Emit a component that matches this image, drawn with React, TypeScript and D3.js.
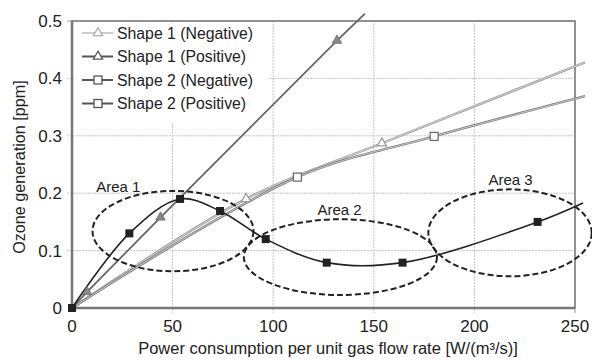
import React, {useEffect, useRef} from 'react';
import * as d3 from 'd3';

// values
const s1Neg = [[0, 0], [86.5, 0.19], [154, 0.287], [255, 0.428]];
const s1Pos = [[0, 0], [7.5, 0.028], [44, 0.158], [131.7, 0.466], [145.6, 0.513]];
const s2Neg = [[0, 0], [112, 0.228], [180, 0.299], [255, 0.369]];
const s2Pos = [[0, 0], [28.5, 0.13], [53.7, 0.19], [73.6, 0.169], [96.3, 0.12], [126.6, 0.079], [164.3, 0.079], [231.4, 0.15], [254, 0.183]];

// which points carry markers
const s1NegMarks = [[86.5, 0.19], [154, 0.287]];
const s1PosMarks = [[7.5, 0.028], [44, 0.158], [131.7, 0.466]];
const s2NegMarks = [[112, 0.228], [180, 0.299]];
const s2PosMarks = [[0, 0], [28.5, 0.13], [53.7, 0.19], [73.6, 0.169], [96.3, 0.12], [126.6, 0.079], [164.3, 0.079], [231.4, 0.15]];

const areaNames = ['Area 1', 'Area 2', 'Area 3'];
const areaCx = [50.2, 133.4, 217.7];
const areaCy = [0.134, 0.0887, 0.131];
const areaRx = [40, 48, 40.6];
const areaRy = [0.07, 0.066, 0.0757];
const areaLabelX = [23, 133, 218];
const areaLabelY = [0.202, 0.162, 0.214];

const xTicks = [0, 50, 100, 150, 200, 250];
const yTicks = [0, 0.1, 0.2, 0.3, 0.4, 0.5];

const legendNames = ['Shape 1 (Negative)', 'Shape 1 (Positive)', 'Shape 2 (Negative)', 'Shape 2 (Positive)'];

const FONT = '"Liberation Sans", Arial, sans-serif';

export default function App() {
  const svgRef = useRef(null);

  useEffect(() => {
    const svg = d3.select(svgRef.current);
    svg.selectAll('*').remove();

    const x = d3.scaleLinear().domain([0, 250]).range([72, 575]);
    const y = d3.scaleLinear().domain([0, 0.5]).range([308, 21]);

    const g = svg.append('g').attr('font-family', FONT);

    // grid
    g.selectAll('.vg').data(xTicks.slice(1, -1)).join('line')
      .attr('x1', d => x(d)).attr('x2', d => x(d))
      .attr('y1', y(0.5)).attr('y2', y(0) + 5)
      .attr('stroke', '#c4c4c4').attr('stroke-width', 1).attr('stroke-dasharray', '2,1');
    g.selectAll('.hg').data(yTicks.slice(1, -1)).join('line')
      .attr('x1', x(0) - 5).attr('x2', x(250))
      .attr('y1', d => y(d)).attr('y2', d => y(d))
      .attr('stroke', '#c4c4c4').attr('stroke-width', 1).attr('stroke-dasharray', '2,1');
    // tick stubs for the ends
    g.append('line').attr('x1', x(0) - 5).attr('x2', x(0)).attr('y1', y(0.5)).attr('y2', y(0.5)).attr('stroke', '#999');
    g.append('line').attr('x1', x(250)).attr('x2', x(250)).attr('y1', y(0)).attr('y2', y(0) + 5).attr('stroke', '#999');

    // frame
    g.append('rect').attr('x', x(0)).attr('y', y(0.5))
      .attr('width', x(250) - x(0)).attr('height', y(0) - y(0.5))
      .attr('fill', 'none').attr('stroke', '#777').attr('stroke-width', 1.6);
    g.append('line').attr('x1', x(0)).attr('x2', x(0)).attr('y1', y(0.5)).attr('y2', y(0))
      .attr('stroke', '#777').attr('stroke-width', 2.5);
    g.append('line').attr('x1', x(0)).attr('x2', x(250)).attr('y1', y(0)).attr('y2', y(0))
      .attr('stroke', '#777').attr('stroke-width', 2.5);

    // legend background
    g.append('rect').attr('x', x(0) + 2).attr('y', y(0.5) + 2).attr('width', 195).attr('height', 99).attr('fill', '#fff');

    // tick labels
    g.selectAll('.xt').data(xTicks).join('text')
      .attr('x', d => x(d)).attr('y', y(0) + 24)
      .attr('text-anchor', 'middle').attr('font-size', 17).attr('fill', '#222')
      .text(d => d);
    g.selectAll('.yt').data(yTicks).join('text')
      .attr('x', x(0) - 10).attr('y', d => y(d) + 6)
      .attr('text-anchor', 'end').attr('font-size', 17).attr('fill', '#222')
      .text(d => d === 0 ? '0' : d.toFixed(1));

    // axis titles
    g.append('text').attr('x', 328).attr('y', 354)
      .attr('text-anchor', 'middle').attr('font-size', 16.5).attr('fill', '#222')
      .text('Power consumption per unit gas flow rate [W/(m³/s)]');
    g.append('text').attr('transform', 'translate(25,167) rotate(-90)')
      .attr('text-anchor', 'middle').attr('font-size', 16.2).attr('fill', '#222')
      .text('Ozone generation [ppm]');

    const line = d3.line().x(d => x(d[0])).y(d => y(d[1]));
    const smooth = d3.line().x(d => x(d[0])).y(d => y(d[1])).curve(d3.curveCatmullRom.alpha(0.5));

    // hollow-looking negative lines
    [s1Neg, s2Neg].forEach((data, i) => {
      g.append('path').attr('d', smooth(data)).attr('fill', 'none')
        .attr('stroke', i === 0 ? '#999' : '#777').attr('stroke-width', 2.4);
      g.append('path').attr('d', smooth(data)).attr('fill', 'none')
        .attr('stroke', '#eee').attr('stroke-width', 0.7);
    });
    g.append('path').attr('d', line(s1Pos)).attr('fill', 'none')
      .attr('stroke', '#666').attr('stroke-width', 1.8);
    g.append('path').attr('d', smooth(s2Pos)).attr('fill', 'none')
      .attr('stroke', '#222').attr('stroke-width', 1.6);

    const tri = d3.symbol().type(d3.symbolTriangle).size(38);

    g.selectAll('.m1n').data(s1NegMarks).join('path')
      .attr('d', tri).attr('transform', d => `translate(${x(d[0])},${y(d[1])})`)
      .attr('fill', '#fff').attr('stroke', '#999').attr('stroke-width', 1.2);
    g.selectAll('.m1p').data(s1PosMarks).join('path')
      .attr('d', tri).attr('transform', d => `translate(${x(d[0])},${y(d[1])})`)
      .attr('fill', '#888').attr('stroke', '#777').attr('stroke-width', 1);
    g.selectAll('.m2n').data(s2NegMarks).join('rect')
      .attr('x', d => x(d[0]) - 4).attr('y', d => y(d[1]) - 4).attr('width', 8).attr('height', 8)
      .attr('fill', '#fff').attr('stroke', '#666').attr('stroke-width', 1.2);
    g.selectAll('.m2p').data(s2PosMarks).join('rect')
      .attr('x', d => x(d[0]) - 4).attr('y', d => y(d[1]) - 4).attr('width', 8).attr('height', 8)
      .attr('fill', '#222');

    // area ellipses
    const areas = areaNames.map((n, i) => ({n, cx: areaCx[i], cy: areaCy[i], rx: areaRx[i], ry: areaRy[i], lx: areaLabelX[i], ly: areaLabelY[i]}));
    g.selectAll('.ell').data(areas).join('ellipse')
      .attr('cx', d => x(d.cx)).attr('cy', d => y(d.cy))
      .attr('rx', d => x(d.rx) - x(0)).attr('ry', d => y(0) - y(d.ry))
      .attr('fill', 'none').attr('stroke', '#222').attr('stroke-width', 2)
      .attr('stroke-dasharray', '6,3');
    g.selectAll('.al').data(areas).join('text')
      .attr('x', d => x(d.lx)).attr('y', d => y(d.ly))
      .attr('text-anchor', 'middle').attr('font-size', 15).attr('fill', '#222')
      .text(d => d.n);

    // legend
    const leg = g.selectAll('.lg').data(legendNames).join('g')
      .attr('transform', (d, i) => `translate(82,${33 + i * 23.5})`);
    leg.append('line').attr('x1', 0).attr('x2', 31).attr('y1', 0).attr('y2', 0)
      .attr('stroke', (d, i) => i === 0 ? '#aaa' : '#555').attr('stroke-width', (d, i) => i === 0 ? 1.2 : 2);
    leg.filter((d, i) => i < 2).append('path').attr('d', tri)
      .attr('transform', 'translate(16,0)').attr('fill', '#fff')
      .attr('stroke', (d, i) => i === 0 ? '#aaa' : '#555').attr('stroke-width', 1.2);
    leg.filter((d, i) => i >= 2).append('rect')
      .attr('x', 12).attr('y', -4).attr('width', 8).attr('height', 8)
      .attr('fill', '#fff').attr('stroke', '#555').attr('stroke-width', 1.3);
    leg.append('text').attr('x', 35).attr('y', 5.5)
      .attr('font-size', 15.8).attr('fill', '#222')
      .text(d => d);
  }, []);

  return (
    <svg ref={svgRef} width={592} height={360} style={{position: 'absolute', left: 0, top: 0, background: '#fff'}}></svg>
  );
}
